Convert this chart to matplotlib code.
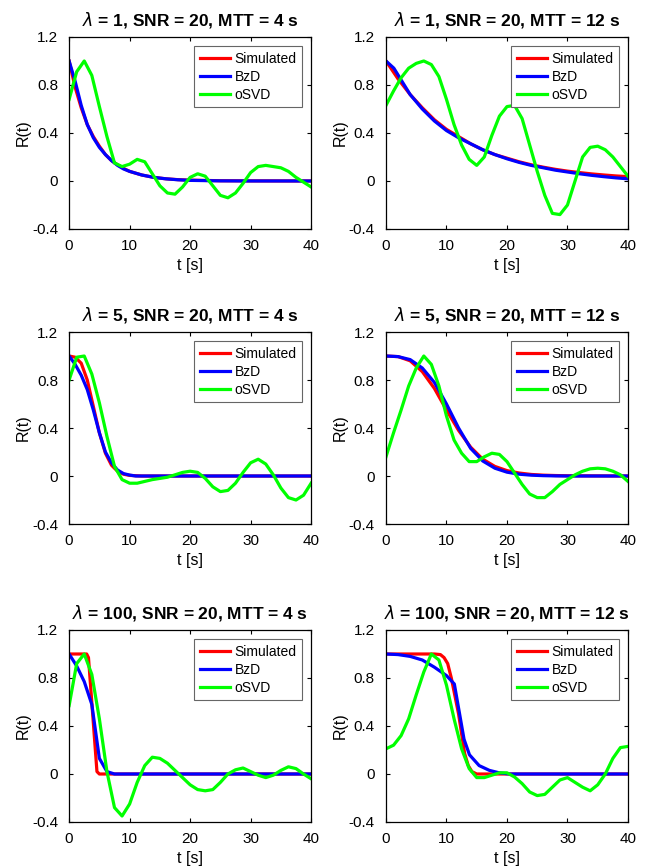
import matplotlib
matplotlib.use("Agg")
import matplotlib.pyplot as plt

plt.rcParams['font.family'] = ['Liberation Sans', 'DejaVu Sans']

# oSVD residues share one sampling grid
t_osvd = [0, 1.25, 2.5, 3.75, 5, 6.25, 7.5, 8.75, 10, 11.25, 12.5, 13.75, 15,
          16.25, 17.5, 18.75, 20, 21.25, 22.5, 23.75, 25, 26.25, 27.5, 28.75,
          30, 31.25, 32.5, 33.75, 35, 36.25, 37.5, 38.75, 40]

# lambda = 1, MTT = 4 s
t_sim_1 = [0, 1, 2, 3, 4, 5, 6, 7, 8, 9, 10, 12, 14, 16, 18, 20, 25, 30, 40]
r_sim_1 = [1.0, 0.78, 0.61, 0.47, 0.37, 0.29, 0.22, 0.17, 0.135, 0.105, 0.08,
           0.05, 0.03, 0.018, 0.011, 0.007, 0.002, 0.001, 0.0]
t_bzd_1 = t_sim_1
r_bzd_1 = [1.0, 0.83, 0.63, 0.47, 0.36, 0.28, 0.22, 0.17, 0.13, 0.10, 0.08,
           0.05, 0.03, 0.018, 0.01, 0.005, 0.001, 0.0, 0.0]
r_osvd_1 = [0.68, 0.91, 1.0, 0.88, 0.62, 0.37, 0.15, 0.12, 0.14, 0.18, 0.16,
            0.06, -0.04, -0.10, -0.11, -0.05, 0.03, 0.06, 0.04, -0.04, -0.12,
            -0.14, -0.10, -0.02, 0.07, 0.12, 0.13, 0.12, 0.11, 0.08, 0.03,
            -0.01, -0.05]

# lambda = 1, MTT = 12 s
t_sim_2 = [0, 2, 4, 6, 8, 10, 12, 14, 16, 18, 20, 22, 24, 26, 28, 30, 32, 34,
           36, 38, 40]
r_sim_2 = [1.0, 0.85, 0.72, 0.61, 0.51, 0.43, 0.37, 0.31, 0.26, 0.22, 0.19,
           0.16, 0.135, 0.115, 0.097, 0.082, 0.07, 0.059, 0.05, 0.042, 0.036]
t_bzd_2 = [0, 1.3, 4, 6, 8, 10, 12, 14, 16, 18, 20, 22, 24, 26, 28, 30, 32, 34,
           36, 38, 40]
r_bzd_2 = [1.0, 0.94, 0.72, 0.6, 0.5, 0.42, 0.36, 0.31, 0.26, 0.22, 0.185,
           0.155, 0.13, 0.11, 0.09, 0.075, 0.06, 0.047, 0.036, 0.026, 0.018]
r_osvd_2 = [0.63, 0.75, 0.86, 0.94, 0.98, 1.0, 0.97, 0.87, 0.68, 0.47, 0.30,
            0.18, 0.13, 0.2, 0.38, 0.54, 0.62, 0.63, 0.52, 0.3, 0.08, -0.12,
            -0.27, -0.28, -0.2, 0.0, 0.2, 0.28, 0.29, 0.26, 0.2, 0.12, 0.04]

# lambda = 5, MTT = 4 s
t_sim_3 = [0, 1, 2, 3, 4, 5, 6, 7, 8, 9, 10, 12, 40]
r_sim_3 = [1.0, 0.99, 0.94, 0.8, 0.58, 0.36, 0.19, 0.09, 0.04, 0.015, 0.005,
           0.0, 0.0]
t_bzd_3 = [0, 1, 2, 3, 4, 5, 6, 7, 8, 9, 10, 11, 40]
r_bzd_3 = [1.0, 0.93, 0.84, 0.72, 0.55, 0.36, 0.2, 0.11, 0.05, 0.02, 0.008,
           0.0, 0.0]
r_osvd_3 = [0.8, 0.99, 1.0, 0.85, 0.61, 0.33, 0.08, -0.03, -0.06, -0.06,
            -0.045, -0.03, -0.02, -0.01, 0.01, 0.03, 0.04, 0.03, -0.02, -0.09,
            -0.13, -0.12, -0.06, 0.03, 0.11, 0.14, 0.1, 0.01, -0.1, -0.18,
            -0.2, -0.16, -0.06]

# lambda = 5, MTT = 12 s
t_sim_4 = [0, 2, 4, 6, 8, 10, 12, 14, 16, 18, 20, 22, 24, 26, 28, 30, 40]
r_sim_4 = [1.0, 0.995, 0.96, 0.87, 0.73, 0.55, 0.38, 0.24, 0.14, 0.08, 0.045,
           0.025, 0.013, 0.007, 0.004, 0.002, 0.0]
t_bzd_4 = t_sim_4
r_bzd_4 = [1.0, 0.995, 0.97, 0.9, 0.78, 0.6, 0.4, 0.23, 0.125, 0.065, 0.032,
           0.015, 0.007, 0.003, 0.001, 0.0, 0.0]
r_osvd_4 = [0.16, 0.36, 0.55, 0.75, 0.9, 1.0, 0.93, 0.75, 0.5, 0.3, 0.19, 0.12,
            0.12, 0.16, 0.19, 0.18, 0.12, 0.025, -0.07, -0.15, -0.18, -0.18,
            -0.13, -0.07, -0.03, 0.01, 0.04, 0.06, 0.065, 0.06, 0.04, 0.01,
            -0.045]

# lambda = 100, MTT = 4 s
t_sim_5 = [0, 2.9, 3.2, 4.6, 5.0, 40]
r_sim_5 = [1.0, 1.0, 0.97, 0.02, 0.0, 0.0]
t_bzd_5 = [0, 1.25, 2.5, 3.75, 5.0, 6.25, 7.5, 40]
r_bzd_5 = [1.0, 0.9, 0.77, 0.58, 0.13, 0.02, 0.0, 0.0]
r_osvd_5 = [0.57, 0.92, 1.0, 0.83, 0.46, 0.02, -0.28, -0.35, -0.25, -0.07,
            0.07, 0.14, 0.13, 0.09, 0.03, -0.03, -0.09, -0.13, -0.14, -0.13,
            -0.07, 0.0, 0.035, 0.05, 0.02, -0.01, -0.03, -0.01, 0.03, 0.06,
            0.045, 0.0, -0.04]

# lambda = 100, MTT = 12 s
t_sim_6 = [0, 8.0, 9.0, 9.6, 10.2, 10.8, 12.0, 13.0, 13.6, 14.2, 15, 40]
r_sim_6 = [1.0, 1.0, 0.995, 0.97, 0.92, 0.8, 0.5, 0.17, 0.07, 0.02, 0.0, 0.0]
t_bzd_6 = [0, 2, 4, 6, 8, 10, 11.3, 12.1, 12.9, 13.8, 15.4, 17.1, 18.7, 20.4,
           40]
r_bzd_6 = [1.0, 0.995, 0.98, 0.95, 0.89, 0.82, 0.75, 0.52, 0.29, 0.16, 0.07,
           0.03, 0.01, 0.0, 0.0]
r_osvd_6 = [0.21, 0.24, 0.32, 0.46, 0.66, 0.85, 1.0, 0.95, 0.74, 0.46, 0.21,
            0.045, -0.03, -0.03, -0.01, 0.01, 0.01, -0.025, -0.08, -0.15,
            -0.18, -0.17, -0.11, -0.05, -0.03, -0.07, -0.11, -0.14, -0.09,
            0.0, 0.13, 0.22, 0.23]

titles = [r'$\lambda$ = 1, SNR = 20, MTT = 4 s',
          r'$\lambda$ = 1, SNR = 20, MTT = 12 s',
          r'$\lambda$ = 5, SNR = 20, MTT = 4 s',
          r'$\lambda$ = 5, SNR = 20, MTT = 12 s',
          r'$\lambda$ = 100, SNR = 20, MTT = 4 s',
          r'$\lambda$ = 100, SNR = 20, MTT = 12 s']

panels = [(t_sim_1, r_sim_1, t_bzd_1, r_bzd_1, r_osvd_1),
          (t_sim_2, r_sim_2, t_bzd_2, r_bzd_2, r_osvd_2),
          (t_sim_3, r_sim_3, t_bzd_3, r_bzd_3, r_osvd_3),
          (t_sim_4, r_sim_4, t_bzd_4, r_bzd_4, r_osvd_4),
          (t_sim_5, r_sim_5, t_bzd_5, r_bzd_5, r_osvd_5),
          (t_sim_6, r_sim_6, t_bzd_6, r_bzd_6, r_osvd_6)]

fig = plt.figure(figsize=(6.46, 8.68), dpi=100)

lefts = [0.107, 0.5975]
bottoms = [0.7362, 0.3963, 0.053]
w, h = 0.3746, 0.2212

for i, (ts, rs, tb, rb, ro) in enumerate(panels):
    ax = fig.add_axes([lefts[i % 2], bottoms[i // 2], w, h])
    ax.plot(ts, rs, color='r', lw=2.3, label='Simulated')
    ax.plot(tb, rb, color='b', lw=2.3, label='BzD')
    ax.plot(t_osvd, ro, color=(0, 1, 0), lw=2.3, label='oSVD')

    ax.set_xlim(0, 40)
    ax.set_ylim(-0.4, 1.2)
    ax.set_xticks([0, 10, 20, 30, 40])
    ax.set_yticks([-0.4, 0, 0.4, 0.8, 1.2])
    ax.set_yticklabels(['-0.4', '0', '0.4', '0.8', '1.2'])
    ax.tick_params(direction='in', top=True, right=True, labelsize=11,
                   length=3, width=0.8)
    ax.tick_params(axis='x', pad=7)
    ax.tick_params(axis='y', pad=8)
    for s in ax.spines.values():
        s.set_linewidth(0.9)
    ax.set_xlabel('t [s]', fontsize=11.5, labelpad=4)
    ax.set_ylabel('R(t)', fontsize=11.5, labelpad=1)
    ax.set_title(titles[i], fontsize=12.5, fontweight='bold', pad=8)

    leg = ax.legend(loc='upper right', fontsize=10, handlelength=2.2,
                    handletextpad=0.3, borderpad=0.4, labelspacing=0.3,
                    borderaxespad=0.65, fancybox=False, framealpha=1)
    leg.get_frame().set_edgecolor('#666666')
    leg.get_frame().set_linewidth(0.8)

fig.savefig('out.png', dpi=100)
